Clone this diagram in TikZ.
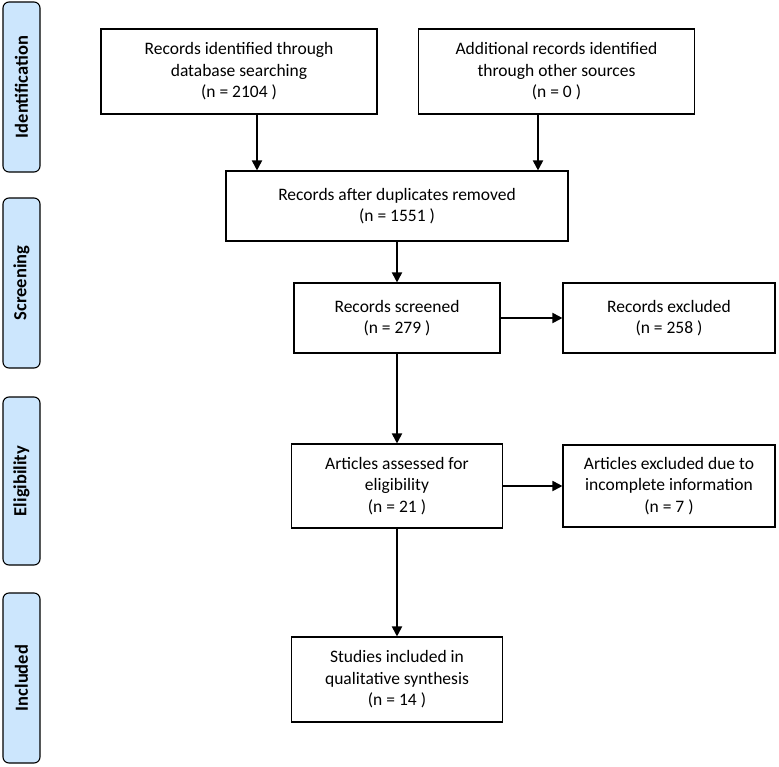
\documentclass[tikz,border=0pt]{standalone}
\usepackage{fontspec}
\setmainfont{Carlito}
\usetikzlibrary{arrows.meta}
\definecolor{phaseblue}{RGB}{204,230,253}
\begin{document}
\begin{tikzpicture}[x=1pt,y=-1pt,
    box/.style={draw,line width=1.1pt,inner sep=0pt,align=center,
      font=\fontsize{17.5}{21.5}\selectfont},
    phase/.style={draw,line width=1.1pt,fill=phaseblue,rounded corners=6pt,
      rotate=90,minimum height=37pt,inner sep=0pt,
      font=\fontsize{18.5}{22}\selectfont\bfseries},
    arr/.style={-{Triangle[length=10pt,width=10pt]},line width=1.8pt}]
  \useasboundingbox (0,0) rectangle (779,766);
  % phase boxes on the left
  \foreach \name/\txt/\yc/\h in {ident/Identification/87/170,screen/Screening/283/170,
      elig/Eligibility/481/168,incl/Included/678/170}
    \node[phase,minimum width=\h pt] (\name) at (21.5,\yc) {\txt};
  % flow boxes
  \node[box,minimum width=276pt,minimum height=85pt] (db) at (239,71.5)
    {Records identified through\\database searching\\(n = 2104 )};
  \node[box,minimum width=276pt,minimum height=85pt] (other) at (556.5,71.5)
    {Additional records identified\\through other sources\\(n = 0 )};
  \node[box,minimum width=342pt,minimum height=70pt] (dup) at (397,206)
    {Records after duplicates removed\\(n = 1551 )};
  \node[box,minimum width=206pt,minimum height=70pt] (scr) at (397,318)
    {Records screened\\(n = 279 )};
  \node[box,minimum width=212pt,minimum height=70pt] (excl) at (669,318)
    {Records excluded\\(n = 258 )};
  \node[box,minimum width=211pt,minimum height=84pt] (elg) at (397,486)
    {Articles assessed for\\eligibility\\(n = 21 )};
  \node[box,minimum width=212pt,minimum height=82pt] (inc) at (669,486)
    {Articles excluded due to\\incomplete information\\(n = 7 )};
  \node[box,minimum width=211pt,minimum height=85pt] (qual) at (397,679.5)
    {Studies included in\\qualitative synthesis\\(n = 14 )};
  % arrows
  \draw[arr] ([xshift=18pt]db.south) -- ([xshift=18pt]db.south |- dup.north);
  \draw[arr] ([xshift=-18.5pt]other.south) -- ([xshift=-18.5pt]other.south |- dup.north);
  \draw[arr] (dup.south) -- (dup.south |- scr.north);
  \draw[arr] (scr.east) -- (excl.west);
  \draw[arr] (scr.south) -- (scr.south |- elg.north);
  \draw[arr] (elg.east) -- (inc.west);
  \draw[arr] (elg.south) -- (qual.north);
\end{tikzpicture}
\end{document}
